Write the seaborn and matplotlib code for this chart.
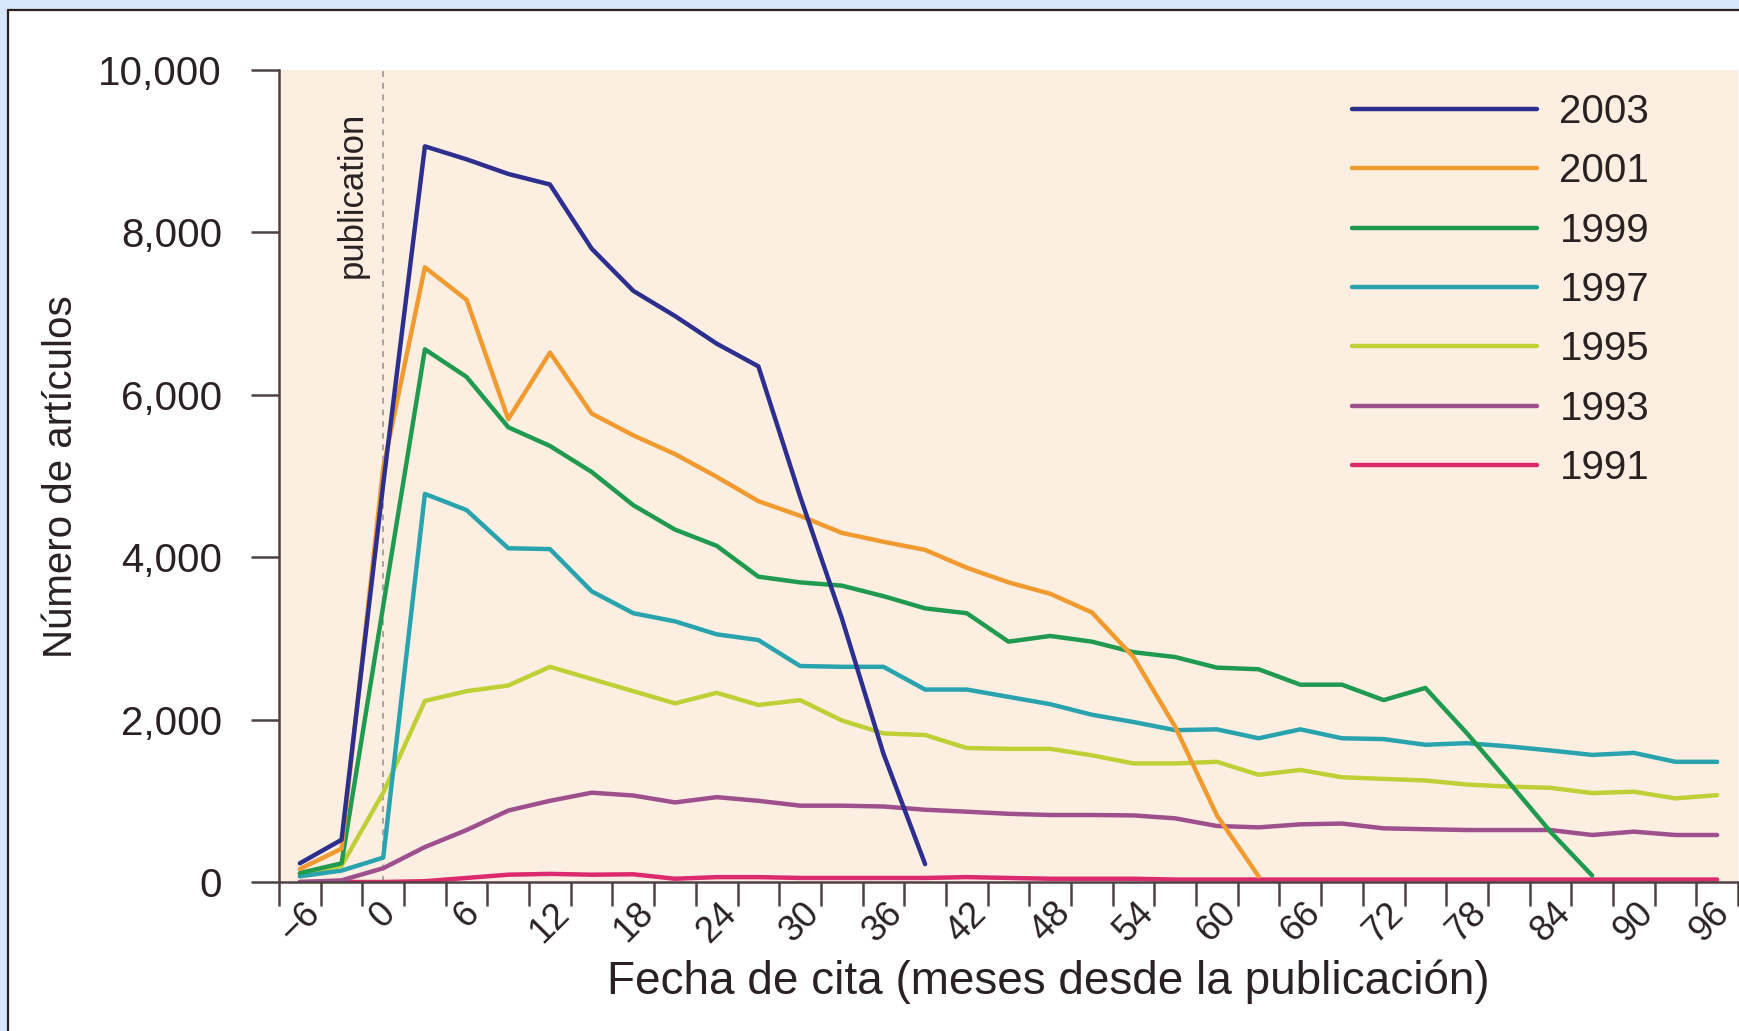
import pandas as pd
import seaborn as sns
import matplotlib.pyplot as plt
from matplotlib.patches import Rectangle
from matplotlib.lines import Line2D
from matplotlib.transforms import ScaledTranslation


# Data (months since publication, every 3 months)
months = [-6, -3, 0, 3, 6, 9, 12, 15, 18, 21, 24, 27, 30, 33, 36, 39, 42, 45, 48,
          51, 54, 57, 60, 63, 66, 69, 72, 75, 78, 81, 84, 87, 90, 93, 96]

y2003 = [230, 520, 4900, 9060, 8900, 8720, 8590, 7800, 7280, 6970, 6630, 6350,
         4750, 3250, 1580, 220]
y2001 = [160, 410, 5100, 7570, 7170, 5700, 6520, 5770, 5500, 5270, 4990, 4690,
         4510, 4300, 4190, 4090, 3870, 3690, 3550, 3320, 2770, 1910, 820, 70]
y1999 = [110, 230, 3400, 6560, 6220, 5600, 5370, 5050, 4640, 4340, 4140, 3760,
         3690, 3650, 3520, 3370, 3310, 2960, 3030, 2960, 2830, 2770, 2640, 2620,
         2430, 2430, 2240, 2390, 1830, 1230, 620, 80]
y1997 = [70, 140, 300, 4780, 4580, 4110, 4100, 3580, 3310, 3210, 3050, 2980,
         2660, 2650, 2650, 2370, 2370, 2280, 2190, 2060, 1970, 1870, 1880, 1770,
         1880, 1770, 1760, 1690, 1710, 1670, 1620, 1565, 1590, 1480, 1480]
y1995 = [100, 200, 1100, 2230, 2350, 2420, 2650, 2500, 2350, 2200, 2330, 2180,
         2240, 1990, 1830, 1810, 1650, 1640, 1640, 1560, 1460, 1460, 1480, 1320,
         1380, 1290, 1270, 1250, 1200, 1175, 1160, 1095, 1112, 1030, 1070]
y1993 = [0, 20, 170, 430, 640, 880, 1000, 1100, 1065, 980, 1045, 1000,
         940, 940, 930, 890, 866, 840, 825, 825, 820, 784, 690, 673,
         710, 720, 661, 650, 640, 640, 640, 579, 620, 579, 579]
y1991 = [0, 0, 0, 10, 50, 90, 100, 90, 95, 40, 60, 60,
         50, 50, 50, 50, 60, 50, 40, 40, 40, 30, 30, 30,
         30, 30, 30, 30, 30, 30, 30, 30, 30, 30, 30]

years = ['1991', '1993', '1995', '1997', '1999', '2001', '2003']
series = [y1991, y1993, y1995, y1997, y1999, y2001, y2003]
colors = {'2003': '#2d2f8e', '2001': '#f09a30', '1999': '#1f9a4e',
          '1997': '#29a3ad', '1995': '#bfd036', '1993': '#9e4f8e',
          '1991': '#dc2a6e'}

x_ticks = [-6, 0, 6, 12, 18, 24, 30, 36, 42, 48, 54, 60, 66, 72, 78, 84, 90, 96]
x_labels = ['\u22126', '0', '6', '12', '18', '24', '30', '36', '42', '48', '54',
            '60', '66', '72', '78', '84', '90', '96']
x_edges = [-7.5, -4.5, -1.5, 1.5, 4.5, 7.5, 10.5, 13.5, 16.5, 19.5, 22.5, 25.5,
           28.5, 31.5, 34.5, 37.5, 40.5, 43.5, 46.5, 49.5, 52.5, 55.5, 58.5,
           61.5, 64.5, 67.5, 70.5, 73.5, 76.5, 79.5, 82.5, 85.5, 88.5, 91.5,
           94.5, 97.5]
y_ticks = [0, 2000, 4000, 6000, 8000, 10000]

rows = []
for yr, vals in zip(years, series):
    for m, v in zip(months, vals):
        rows.append({'month': m, 'articles': v, 'year': yr})
df = pd.DataFrame(rows)

sns.set_style('ticks')
plt.rcParams['font.family'] = ['Liberation Sans', 'DejaVu Sans']
ink = '#2a2222'
axis_col = '#4d4343'

W, H = 1740, 1031
fig = plt.figure(figsize=(W / 100, H / 100), dpi=100)
fig.patch.set_facecolor('#d6e6fb')
# white panel with a dark edge on top and left
fig.patches.append(Rectangle((9 / W, 0), 1, 1 - 11 / H, transform=fig.transFigure,
                             facecolor='white', edgecolor='none', zorder=-10))
fig.lines.append(Line2D([8 / W, 8 / W], [0, 1 - 10 / H], transform=fig.transFigure,
                        color='#2a1f1f', lw=1.6, zorder=-5))
fig.lines.append(Line2D([8 / W, 1], [1 - 10 / H, 1 - 10 / H], transform=fig.transFigure,
                        color='#2a1f1f', lw=1.6, zorder=-5))

ax = fig.add_axes([279 / W, 1 - 882 / H, (1738 - 279) / W, (882 - 70) / H])
ax.set_zorder(2)
ax.set_facecolor('#fcefe2')

ax.axvline(0, color='#aaa2a2', ls=(0, (3, 3)), lw=1.4, zorder=1)
ax.text(-2.2, 9480, 'publication', rotation=90, ha='center', va='top',
        fontsize=25, color=ink)

sns.lineplot(data=df, x='month', y='articles', hue='year', hue_order=years,
             palette=colors, linewidth=3.2, estimator=None, sort=False, ax=ax)

ax.set_xlim(-7.5, 97.5)
ax.set_ylim(0, 10000)
ax.set_yticks(y_ticks)
ax.set_yticklabels([f'{v:,}' for v in y_ticks])
ax.set_xticks(x_ticks)
ax.set_xticklabels(x_labels, rotation=45, ha='center', va='top')
ax.set_xticks(x_edges, minor=True)
ax.tick_params(axis='y', length=20, width=1.8, color=axis_col, pad=21,
               labelsize=29, labelcolor=ink)
ax.tick_params(axis='x', which='major', length=0, pad=10, labelsize=26,
               labelcolor=ink)
ax.tick_params(axis='x', which='minor', length=17, width=1.8, color=axis_col)
for s in ['top', 'right']:
    ax.spines[s].set_visible(False)
for s in ['left', 'bottom']:
    ax.spines[s].set_color(axis_col)
    ax.spines[s].set_linewidth(1.8)
ax.set_xlabel('')
ax.set_ylabel('')

# nudge the last label so it stays inside the picture
last = ax.get_xticklabels()[-1]
last.set_transform(last.get_transform() + ScaledTranslation(-7 / 100, 0, fig.dpi_scale_trans))

fig.text(1048 / W, 1 - 994 / H, 'Fecha de cita (meses desde la publicación)',
         ha='center', va='baseline', fontsize=33, color=ink)
fig.text(61 / W, 1 - 477 / H, 'Número de artículos', rotation=90,
         ha='center', va='center', fontsize=29, color=ink)

handles, labels = ax.get_legend_handles_labels()
ax.legend(handles[::-1], labels[::-1], loc='upper left',
          bbox_to_anchor=(1352 / W, 1 - 93 / H), bbox_transform=fig.transFigure,
          frameon=False, fontsize=29, handlelength=4.6, handletextpad=0.55,
          labelspacing=0.53, borderpad=0, borderaxespad=0, labelcolor=ink)

fig.savefig('out.png', dpi=100, facecolor=fig.get_facecolor())
